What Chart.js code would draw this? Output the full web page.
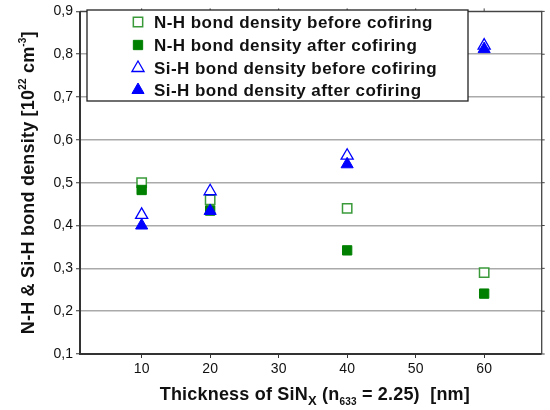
<!DOCTYPE html>
<html lang="en">
<head>
<meta charset="UTF-8">
<title>Bond density vs thickness</title>
<script src="https://cdn.jsdelivr.net/npm/chart.js"></script>
<style>
  html, body { margin: 0; padding: 0; background: #fff; }
  #wrap { width: 550px; height: 410px; }
</style>
</head>
<body>
<div id="wrap"><canvas id="bondChart"></canvas></div>
<script>
// data
const thickness = [10, 20, 40, 60];
const nhBefore = [0.50, 0.46, 0.44, 0.29];
const nhAfter = [0.483, 0.435, 0.342, 0.241];
const sihBefore = [0.425, 0.48, 0.563, 0.82];
const sihAfter = [0.40, 0.434, 0.543, 0.812];
const seriesLabels = [
  'N-H bond density before cofiring',
  'N-H bond density after cofiring',
  'Si-H bond density before cofiring',
  'Si-H bond density after cofiring'
];
const xTicks = [10, 20, 30, 40, 50, 60];
const yTicks = [0.1, 0.2, 0.3, 0.4, 0.5, 0.6, 0.7, 0.8, 0.9];

const FONT = '"Liberation Sans", Arial, Helvetica, sans-serif';

function pts(ys) {
  return thickness.map((x, i) => ({ x: x, y: ys[i] }));
}

const datasets = [
  { label: seriesLabels[0], data: pts(nhBefore), pointStyle: 'rect', pointRadius: 6.6,
    backgroundColor: '#ffffff', borderColor: '#3a9a3a', borderWidth: 1.5, order: 3 },
  { label: seriesLabels[1], data: pts(nhAfter), pointStyle: 'rect', pointRadius: 6.6,
    backgroundColor: '#008000', borderColor: '#008000', borderWidth: 1, order: 2 },
  { label: seriesLabels[2], data: pts(sihBefore), pointStyle: 'triangle', pointRadius: 7,
    backgroundColor: '#ffffff', borderColor: '#0000ff', borderWidth: 1.3, order: 1 },
  { label: seriesLabels[3], data: pts(sihAfter), pointStyle: 'triangle', pointRadius: 7,
    backgroundColor: '#0000ff', borderColor: '#0000ff', borderWidth: 1, order: 0 }
];

// draw text runs with sub/superscripts
function richText(ctx, runs, x, y, size) {
  let total = 0;
  runs.forEach(r => {
    const s = r.k === 'n' ? size : r.size;
    ctx.font = 'bold ' + s + 'px ' + FONT;
    r.w = ctx.measureText(r.t).width;
    r.s = s;
    total += r.w;
  });
  let cx = x - total / 2;
  ctx.textBaseline = 'alphabetic';
  ctx.textAlign = 'left';
  runs.forEach(r => {
    ctx.font = 'bold ' + r.s + 'px ' + FONT;
    let dy = 0;
    if (r.k === 'sup') dy = -size * 0.45;
    if (r.k === 'sub') dy = size * 0.3;
    ctx.fillText(r.t, cx, y + dy);
    cx += r.w;
  });
}

const decorations = {
  id: 'decorations',
  afterDraw(chart) {
    const ctx = chart.ctx;
    const a = chart.chartArea;
    const xs = chart.scales.x, ys = chart.scales.y;
    ctx.save();
    // frame
    ctx.strokeStyle = '#444';
    ctx.lineWidth = 1.3;
    ctx.beginPath();
    ctx.moveTo(a.left, a.top); ctx.lineTo(a.right, a.top); ctx.lineTo(a.right, a.bottom);
    ctx.stroke();
    ctx.strokeStyle = '#333';
    ctx.lineWidth = 2;
    ctx.beginPath();
    ctx.moveTo(a.left, a.top); ctx.lineTo(a.left, a.bottom); ctx.lineTo(a.right, a.bottom);
    ctx.stroke();
    // ticks on top and right
    ctx.lineWidth = 1;
    ctx.strokeStyle = '#444';
    xTicks.forEach(v => {
      const px = xs.getPixelForValue(v);
      ctx.beginPath(); ctx.moveTo(px, a.top); ctx.lineTo(px, a.top - 3); ctx.stroke();
    });
    yTicks.forEach(v => {
      const py = ys.getPixelForValue(v);
      ctx.beginPath(); ctx.moveTo(a.right, py); ctx.lineTo(a.right + 3, py); ctx.stroke();
    });

    // legend box
    const lx = 87, ly = 10, lw = 381, lh = 91;
    ctx.fillStyle = '#ffffff';
    ctx.fillRect(lx, ly, lw, lh);
    ctx.strokeStyle = '#222';
    ctx.lineWidth = 1.3;
    ctx.strokeRect(lx, ly, lw, lh);
    const rows = [22, 45, 68, 90];
    chart.data.datasets.forEach((ds, i) => {
      ctx.fillStyle = ds.backgroundColor;
      ctx.strokeStyle = ds.borderColor;
      ctx.lineWidth = ds.borderWidth;
      Chart.helpers.drawPoint(ctx, {
        pointStyle: ds.pointStyle, radius: ds.pointRadius, rotation: 0, borderWidth: ds.borderWidth
      }, 138, rows[i]);
      ctx.fillStyle = '#111';
      ctx.font = 'bold 17px ' + FONT;
      ctx.letterSpacing = '0.45px';
      ctx.textAlign = 'left';
      ctx.textBaseline = 'middle';
      ctx.fillText(ds.label, 154, rows[i] + 1);
    });

    // axis titles
    ctx.fillStyle = '#111';
    ctx.letterSpacing = '0.2px';
    const midX = (a.left + a.right) / 2;
    richText(ctx, [
      { t: 'Thickness of SiN', k: 'n' },
      { t: 'X', k: 'sub', size: 13 },
      { t: ' (n', k: 'n' },
      { t: '633', k: 'sub', size: 10 },
      { t: ' = 2.25)  [nm]', k: 'n' }
    ], midX + 4, 400, 18);

    ctx.save();
    ctx.translate(34, (a.top + a.bottom) / 2);
    ctx.rotate(-Math.PI / 2);
    richText(ctx, [
      { t: 'N-H & Si-H bond density [10', k: 'n' },
      { t: '22', k: 'sup', size: 10 },
      { t: ' cm', k: 'n' },
      { t: '-3', k: 'sup', size: 10 },
      { t: ']', k: 'n' }
    ], 0, 0, 18);
    ctx.restore();
    ctx.restore();
  }
};

new Chart(document.getElementById('bondChart'), {
  type: 'scatter',
  data: { datasets: datasets },
  options: {
    responsive: true,
    maintainAspectRatio: false,
    animation: false,
    layout: { padding: { top: 7, right: 5, left: 0, bottom: 0 } },
    plugins: {
      legend: { display: false },
      tooltip: { enabled: false }
    },
    scales: {
      x: {
        type: 'linear',
        min: 1,
        max: 68.4,
        afterBuildTicks: s => { s.ticks = xTicks.map(v => ({ value: v })); },
        afterFit: s => { s.height = 56; },
        border: { display: false },
        grid: { drawOnChartArea: false, drawTicks: true, tickLength: 4, tickColor: '#333', tickWidth: 1 },
        ticks: { color: '#111', font: { family: FONT, size: 14 }, padding: 3, maxRotation: 0 }
      },
      y: {
        min: 0.1,
        max: 0.9,
        afterBuildTicks: s => { s.ticks = yTicks.map(v => ({ value: v })); },
        afterFit: s => { s.width = 80; },
        border: { display: false },
        grid: { color: '#aaaaaa', lineWidth: 1.5, drawTicks: true, tickLength: 4, tickColor: '#333', tickWidth: 1 },
        ticks: {
          color: '#111',
          font: { family: FONT, size: 14 },
          padding: 3,
          callback: v => v.toFixed(1).replace('.', ',')
        }
      }
    }
  },
  plugins: [decorations]
});
</script>
</body>
</html>
